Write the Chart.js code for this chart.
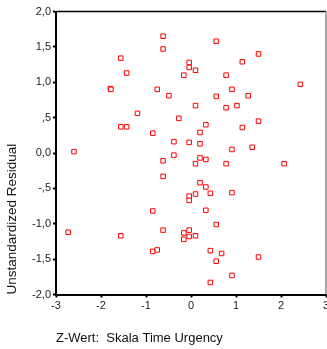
<!DOCTYPE html>
<html>
<head>
<meta charset="utf-8">
<script src="https://cdn.jsdelivr.net/npm/chart.js@4/dist/chart.umd.min.js"></script>
<style>
  html, body { margin: 0; padding: 0; background: #fff; overflow: hidden; }
  #wrap { position: absolute; left: 0; top: 0; width: 340px; height: 349px; }
</style>
</head>
<body>
<div id="wrap"><canvas id="chart" width="340" height="349"></canvas></div>
<script>
// Standardized predictor (z score) for each respondent
const zValues = [
  -0.62, 0.56, -0.62, -1.56, -0.04, -0.04, 0.10, -1.43, -0.16, 1.50,
  1.14, 0.78, 2.43, 0.91, -1.79, -1.78, -0.75, -0.49, 0.56, 1.27,
  0.10, 1.02, 0.78, -1.19, -0.27, 1.50, -1.56, -1.43, 0.33, 1.14,
  -0.85, 0.20, -0.38, -0.04, 0.20, 1.36, 0.91, -2.60, -0.38, -0.62,
  0.20, 0.33, 0.10, 0.78, 2.07, -0.62, 0.20, 0.33, 0.43, 0.10,
  -0.04, -0.04, 0.91, -0.85, 0.33, 0.56, -0.62, -0.04, -2.73, -1.56,
  -0.16, -0.04, 0.10, -0.16, -0.85, -0.75, 0.43, 0.68, 0.56, 1.50,
  0.91, 0.43
];

// Unstandardized residual for each respondent
const residuals = [
  1.65, 1.58, 1.47, 1.34, 1.28, 1.21, 1.17, 1.13, 1.10, 1.40,
  1.29, 1.10, 0.97, 0.90, 0.91, 0.90, 0.90, 0.81, 0.80, 0.81,
  0.67, 0.67, 0.64, 0.56, 0.49, 0.45, 0.37, 0.37, 0.40, 0.36,
  0.28, 0.29, 0.16, 0.15, 0.13, 0.08, 0.05, 0.02, -0.03, -0.11,
  -0.07, -0.09, -0.15, -0.15, -0.15, -0.33, -0.42, -0.48, -0.57, -0.58,
  -0.61, -0.67, -0.56, -0.82, -0.81, -1.01, -1.09, -1.09, -1.12, -1.17,
  -1.13, -1.18, -1.17, -1.22, -1.39, -1.37, -1.38, -1.42, -1.53, -1.47,
  -1.73, -1.83
];

const xTickLabels = ['-3', '-2', '-1', '0', '1', '2', '3'];
const yTickLabels = ['-2,0', '-1,5', '-1,0', '-,5', '0,0', ',5', '1,0', '1,5', '2,0'];

const xTitle = 'Z-Wert:  Skala Time Urgency';
const yTitle = 'Unstandardized Residual';

const points = zValues.map((x, i) => ({ x: x, y: residuals[i] }));

// Top and right edges of the plot frame
const framePlugin = {
  id: 'frame',
  beforeDatasetsDraw(chart) {
    const { ctx, chartArea: a } = chart;
    ctx.save();
    ctx.lineWidth = 1.5;
    ctx.strokeStyle = '#000';
    ctx.beginPath();
    ctx.moveTo(a.left, a.top);
    ctx.lineTo(a.right, a.top);
    ctx.stroke();
    ctx.strokeStyle = '#8a8a8a';
    ctx.beginPath();
    ctx.moveTo(a.right, a.top);
    ctx.lineTo(a.right, a.bottom);
    ctx.stroke();
    ctx.restore();
  }
};

const tickFont = { family: '"Liberation Sans", Arial, sans-serif', size: 11 };
const xTitleFont = { family: '"Liberation Sans", Arial, sans-serif', size: 13 };
const yTitleFont = { family: '"Liberation Sans", Arial, sans-serif', size: 13.5 };

new Chart(document.getElementById('chart'), {
  type: 'scatter',
  data: {
    datasets: [{
      data: points,
      pointStyle: 'rect',
      pointRadius: 3.2,
      pointHoverRadius: 3.2,
      borderColor: '#ff0000',
      backgroundColor: '#ffffff',
      borderWidth: 1
    }]
  },
  options: {
    responsive: false,
    animation: false,
    devicePixelRatio: 1,
    layout: { padding: { left: 0, right: 14, top: 11.5, bottom: 0 } },
    plugins: { legend: { display: false }, tooltip: { enabled: false } },
    scales: {
      x: {
        type: 'linear',
        min: -3, max: 3,
        afterBuildTicks: s => { s.ticks = xTickLabels.map((_, i) => ({ value: -3 + i })); },
        afterFit: s => { s.height = 54.5; },
        ticks: {
          font: tickFont, color: '#222', padding: 2, maxRotation: 0,
          callback: (v, i) => xTickLabels[i]
        },
        grid: { drawOnChartArea: false, drawTicks: true, tickLength: 3, tickWidth: 2, tickColor: '#000' },
        border: { display: true, color: '#000', width: 2 },
        title: { display: true, text: xTitle, align: 'start', font: xTitleFont, color: '#111', padding: { top: 4, bottom: 3 } }
      },
      y: {
        type: 'linear',
        min: -2, max: 2,
        afterBuildTicks: s => { s.ticks = yTickLabels.map((_, i) => ({ value: -2 + i * 0.5 })); },
        afterFit: s => { s.width = 56; },
        ticks: {
          font: tickFont, color: '#222', padding: 2,
          callback: (v, i) => yTickLabels[i]
        },
        grid: { drawOnChartArea: false, drawTicks: true, tickLength: 3, tickWidth: 2, tickColor: '#000' },
        border: { display: true, color: '#000', width: 2 },
        title: { display: true, text: yTitle, align: 'start', font: yTitleFont, color: '#111', padding: { top: 4, bottom: 4 } }
      }
    }
  },
  plugins: [framePlugin]
});
</script>
</body>
</html>
